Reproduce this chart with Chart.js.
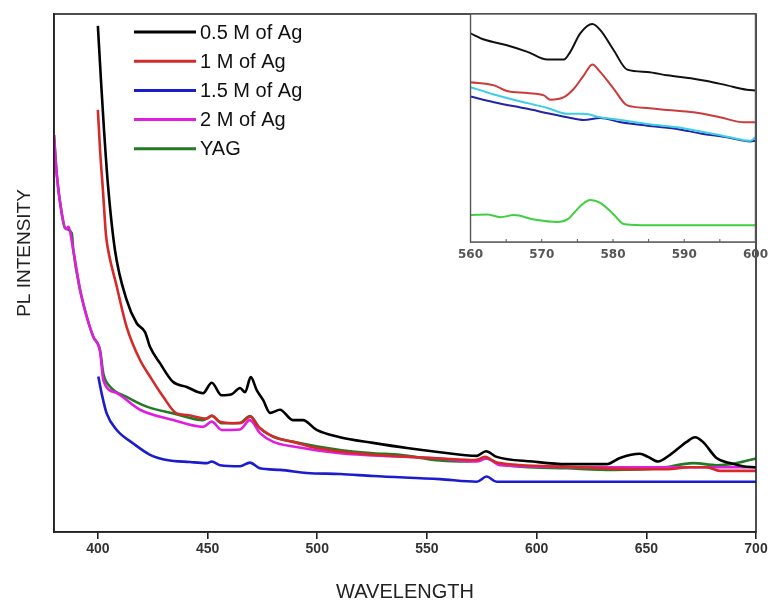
<!DOCTYPE html>
<html lang="en">
    <head>
        <meta charset="UTF-8" />
        <title>PL intensity vs wavelength</title>
        <script src="https://cdn.jsdelivr.net/npm/chart.js"></script>
        <style>
            body { margin: 0; background: #fff; }
            .wrap { position: relative; width: 771px; height: 606px; }
            #mainChart { position: absolute; left: 0; top: 0; }
            #insetChart { position: absolute; left: 452px; top: 4px; }
        </style>
    </head>
    <body>
        <div class="wrap">
            <canvas id="mainChart" width="771" height="606"></canvas>
            <canvas id="insetChart" width="322" height="262"></canvas>
        </div>

        <script>
            // main spectra (wavelength, PL intensity in arbitrary units)
            const labels = ["0.5 M of Ag", "1 M of Ag", "1.5 M of Ag", "2 M of Ag", "YAG"];
            const xTicks = [400, 450, 500, 550, 600, 650, 700];
            const insetTicks = [560, 570, 580, 590, 600];

            const ag05X = [400, 401.4, 402.8, 404.6, 407.8, 413.1, 417.7, 421.5, 423.8, 428.3, 434.2, 440.5, 447.9, 451.9, 456.4, 461, 464.8, 467.1, 469.7, 472.4, 475.3, 478.5, 483, 488.9, 493.5, 499.7, 510.3, 525.4, 540.9, 555.9, 572.7, 576.9, 581.8, 598.3, 613.7, 631.9, 638, 647.1, 650.8, 655.3, 660.8, 668.4, 672.2, 675.8, 682, 688.1, 694, 700];
            const ag05Y = [97.7, 87.3, 77.6, 67.0, 54.4, 44.8, 40.3, 38.6, 35.7, 32.6, 29.0, 28.0, 26.8, 28.8, 26.4, 26.6, 27.8, 27.0, 29.9, 27.4, 25.5, 23.0, 23.6, 21.6, 21.6, 19.7, 18.3, 17.2, 16.2, 15.4, 14.7, 15.6, 14.5, 13.6, 13.1, 13.1, 14.3, 15.1, 14.5, 13.6, 14.9, 17.4, 18.3, 17.4, 14.3, 13.3, 12.7, 12.5];

            const ag1X = [400, 401, 402.3, 403.7, 404.7, 408.6, 413.1, 419.2, 423.8, 429.8, 435.9, 440.5, 449.6, 451.9, 455.7, 464.8, 469.7, 472.4, 480, 489.1, 499.7, 525.5, 537.7, 555.9, 572.6, 576.4, 581.8, 613.7, 643.9, 659.3, 669.9, 677.5, 683.5, 700];
            const ag1Y = [81.5, 73.7, 66.0, 57.3, 54.4, 47.4, 39.6, 33.2, 30.0, 26.1, 22.9, 22.6, 21.9, 22.5, 21.3, 21.0, 22.3, 20.7, 18.4, 17.4, 16.2, 14.9, 14.6, 14.2, 13.9, 14.5, 13.4, 12.6, 12.1, 12.1, 12.5, 12.5, 11.8, 11.8];

            const ag15X = [400.2, 401.7, 404, 408.6, 416.1, 423.8, 431.4, 442, 449.6, 451.9, 455.7, 464.8, 469.3, 473.9, 483, 495.2, 510.4, 525.5, 555.9, 572.7, 577.2, 581.8, 700];
            const ag15Y = [30.0, 26.8, 22.9, 19.7, 17.1, 14.9, 13.9, 13.5, 13.3, 13.6, 12.9, 12.7, 13.4, 12.3, 12.0, 11.4, 11.2, 10.8, 10.2, 9.7, 10.7, 9.7, 9.7];

            const ag2X = [380, 381.2, 383.5, 385.5, 386.5, 388.8, 391.9, 394.9, 397.9, 401, 402.5, 408.6, 419.2, 434.4, 448, 451.9, 456.4, 464.8, 469.3, 473.9, 480, 489.1, 510.4, 555.9, 572.7, 577.2, 583.3, 628.9, 674.5, 700];
            const ag2Y = [76.6, 69.3, 61.6, 58.5, 58.9, 54.4, 46.7, 41.6, 37.7, 34.8, 29.3, 26.8, 23.6, 21.6, 20.3, 21.3, 19.7, 19.8, 21.6, 19.1, 17.4, 16.5, 15.2, 14.2, 13.6, 14.2, 12.9, 12.5, 12.5, 12.5];

            const yagX = [380, 381.2, 383.5, 385, 388.1, 388.8, 391.9, 394.9, 397.9, 401, 402.5, 405.5, 413.1, 422.3, 434.4, 448, 451.9, 456.4, 464.8, 469.3, 473.9, 480, 489.1, 510.4, 525.5, 537.7, 555.9, 568.1, 577.2, 583.3, 613.7, 634.9, 655.9, 671.4, 682, 691.2, 700];
            const yagY = [76.6, 69.3, 61.6, 58.7, 57.7, 54.4, 46.7, 41.6, 37.7, 35.1, 30.6, 28.1, 26.1, 24.2, 22.9, 21.6, 22.4, 21.0, 21.1, 22.4, 20.0, 18.4, 17.4, 15.8, 15.2, 14.9, 13.8, 13.6, 14.2, 13.1, 12.3, 12.0, 12.3, 13.3, 12.9, 13.3, 14.2];

            // inset (560-600 nm zoom)
            const inBlackX = [560, 561.9, 565.1, 568, 570.8, 573.1, 574, 575.4, 577.1, 578.2, 580.1, 582, 584.8, 587.6, 591.3, 593.2, 596, 598.8, 600];
            const inBlackY = [91.5, 88.8, 86.3, 83.4, 80, 80, 83.4, 91.5, 95.6, 93, 84.1, 75.6, 74.6, 73.1, 71.6, 70.6, 68.7, 66.8, 66.5];
            const inRedX = [560, 563.3, 565.1, 568, 570.3, 571.2, 573.1, 574.5, 575.9, 577.1, 578.2, 580.1, 582, 584.8, 587.6, 591.3, 595, 598.4, 600];
            const inRedY = [70.1, 68.7, 66.2, 65.3, 64.3, 62.4, 63.5, 67.2, 73.1, 77.9, 74.6, 67.2, 59.9, 58.8, 57.9, 56.9, 54.7, 52.5, 52.5];
            const inBlueX = [560, 563.3, 568, 570.8, 573.6, 575.9, 578.2, 581.1, 584.8, 589, 592.3, 596, 599.3, 600];
            const inBlueY = [63.8, 61.3, 58.4, 56.5, 54.7, 53.5, 54.4, 52.5, 51, 49.6, 47.6, 45.9, 44.1, 44.4];
            const inCyanX = [560, 563.3, 568, 570.8, 573.6, 575.9, 578.2, 581.1, 584.8, 589, 592.3, 596, 599.3, 600];
            const inCyanY = [67.9, 64.7, 60.9, 58.8, 56.2, 56.2, 54.7, 53.5, 51.8, 50.3, 48.5, 46.2, 44.4, 45.9];
            const inGreenX = [560, 562.3, 564.2, 566.1, 568.9, 572.2, 573.6, 575.4, 576.8, 578.2, 580.1, 581.5, 583.9, 600];
            const inGreenY = [11.8, 12.1, 10.9, 11.8, 9.9, 8.8, 9.9, 15.7, 18.4, 17.2, 12.1, 7.9, 7.4, 7.4];

            function pts(xs, ys) {
                return xs.map((x, i) => ({ x: x, y: ys[i] }));
            }

            function line(label, xs, ys, color, width) {
                return {
                    label: label,
                    data: pts(xs, ys),
                    borderColor: color,
                    backgroundColor: color,
                    borderWidth: width,
                    pointRadius: 0,
                    cubicInterpolationMode: "monotone",
                    fill: false,
                };
            }

            // box around plot area, optional white fill (inset)
            const frame = {
                id: "frame",
                beforeDatasetsDraw(chart, args, opts) {
                    if (!opts.fill) return;
                    const a = chart.chartArea;
                    chart.ctx.save();
                    chart.ctx.fillStyle = "#fff";
                    chart.ctx.fillRect(a.left, a.top, a.right - a.left, a.bottom - a.top);
                    chart.ctx.restore();
                },
                afterDraw(chart, args, opts) {
                    const a = chart.chartArea;
                    const ctx = chart.ctx;
                    ctx.save();
                    ctx.strokeStyle = opts.color || "#222";
                    ctx.lineWidth = opts.width || 1.5;
                    ctx.strokeRect(a.left, a.top, a.right - a.left, a.bottom - a.top);
                    // small inward ticks every 5 units on the inset axis
                    if (opts.minor) {
                        const sx = chart.scales.x;
                        ctx.lineWidth = 1;
                        for (let v = sx.min + 5; v < sx.max; v += 5) {
                            const px = sx.getPixelForValue(v);
                            ctx.beginPath();
                            ctx.moveTo(px, a.bottom);
                            ctx.lineTo(px, a.bottom - 3);
                            ctx.stroke();
                        }
                    }
                    ctx.restore();
                },
            };

            // legend inside the plot + y title
            const legendBox = {
                id: "legendBox",
                afterDraw(chart) {
                    const ctx = chart.ctx;
                    ctx.save();
                    ctx.font = "20px 'Liberation Sans', Arial, sans-serif";
                    ctx.textBaseline = "middle";
                    chart.data.datasets.forEach((ds, i) => {
                        const y = 32 + i * 29.2;
                        ctx.strokeStyle = ds.borderColor;
                        ctx.lineWidth = 3;
                        ctx.beginPath();
                        ctx.moveTo(134, y);
                        ctx.lineTo(196, y);
                        ctx.stroke();
                        ctx.fillStyle = "#111";
                        ctx.fillText(ds.label, 200, y + 1);
                    });
                    ctx.translate(25, 253);
                    ctx.rotate(-Math.PI / 2);
                    ctx.textAlign = "center";
                    ctx.font = "19px 'Liberation Sans', Arial, sans-serif";
                    ctx.fillStyle = "#222";
                    ctx.fillText("PL INTENSITY", 0, 0);
                    ctx.restore();
                },
            };

            new Chart(document.getElementById("mainChart"), {
                type: "line",
                data: {
                    datasets: [
                        line(labels[0], ag05X, ag05Y, "#000000", 2.6),
                        line(labels[1], ag1X, ag1Y, "#d42a2a", 2.6),
                        line(labels[2], ag15X, ag15Y, "#1c1ccf", 2.6),
                        line(labels[3], ag2X, ag2Y, "#e01ee0", 2.6),
                        line(labels[4], yagX, yagY, "#247a24", 2.6),
                    ],
                },
                options: {
                    responsive: false,
                    animation: false,
                    events: [],
                    layout: { padding: { left: 0, top: 14, right: 15, bottom: 0 } },
                    plugins: { legend: { display: false }, tooltip: { enabled: false }, frame: { width: 1.6, color: "#222" } },
                    scales: {
                        x: {
                            type: "linear",
                            min: 380,
                            max: 700,
                            afterBuildTicks: (s) => { s.ticks = xTicks.map((v) => ({ value: v })); },
                            afterFit: (s) => { s.height = 74; },
                            grid: { drawOnChartArea: false, drawTicks: true, tickLength: 7, color: "#222", lineWidth: 1.6 },
                            border: { display: true, color: "#222", width: 1.6 },
                            ticks: { color: "#333", padding: 2, font: { size: 14, weight: "bold", family: "'Liberation Sans', Arial, sans-serif" } },
                            title: { display: true, text: "WAVELENGTH", color: "#222", padding: { bottom: 2 }, font: { size: 20, family: "'Liberation Sans', Arial, sans-serif" } },
                        },
                        y: {
                            min: 0,
                            max: 100,
                            afterFit: (s) => { s.width = 54; },
                            grid: { display: false },
                            border: { display: true, color: "#222", width: 1.6 },
                            ticks: { display: false },
                        },
                    },
                },
                plugins: [frame, legendBox],
            });

            new Chart(document.getElementById("insetChart"), {
                type: "line",
                data: {
                    datasets: [
                        line("black", inBlackX, inBlackY, "#111111", 2),
                        line("red", inRedX, inRedY, "#cc3a3a", 2),
                        line("cyan", inCyanX, inCyanY, "#3ccfe2", 2),
                        line("blue", inBlueX, inBlueY, "#2424a8", 2),
                        line("green", inGreenX, inGreenY, "#3fd03f", 2),
                    ],
                },
                options: {
                    responsive: false,
                    animation: false,
                    events: [],
                    layout: { padding: { left: 10, top: 10, right: 10, bottom: 0 } },
                    plugins: { legend: { display: false }, tooltip: { enabled: false }, frame: { width: 1.4, color: "#555", fill: true, minor: true } },
                    scales: {
                        x: {
                            type: "linear",
                            min: 560,
                            max: 600,
                            afterBuildTicks: (s) => { s.ticks = insetTicks.map((v) => ({ value: v })); },
                            afterFit: (s) => { s.height = 24; },
                            grid: { drawOnChartArea: false, drawTicks: false },
                            border: { display: true, color: "#555", width: 1.4 },
                            ticks: { color: "#555", padding: 6, font: { size: 12, weight: "bold", family: "'DejaVu Sans', sans-serif" } },
                        },
                        y: {
                            min: 0,
                            max: 100,
                            display: false,
                        },
                    },
                },
                plugins: [frame],
            });
        </script>
    </body>
</html>
